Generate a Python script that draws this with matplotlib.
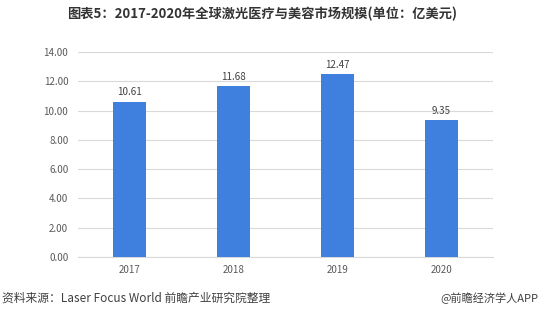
import matplotlib.pyplot as plt

plt.rcParams['font.family'] = ['Noto Sans CJK SC', 'DejaVu Sans']

years = ["2017", "2018", "2019", "2020"]
market = [10.61, 11.68, 12.47, 9.35]
yticks = [0, 2, 4, 6, 8, 10, 12, 14]

fig = plt.figure(figsize=(5.4, 3.2), dpi=100)
ax = fig.add_axes([78/540, 1-257/320, (493-78)/540, (257-52)/320])

bars = ax.bar(years, market, width=0.32, color="#3F7FDD", zorder=3)
for b, v in zip(bars, market):
    ax.text(b.get_x() + b.get_width()/2, v + 0.3, f"{v:.2f}", ha="center", va="bottom",
            fontsize=7, color="#404040")

ax.set_xlim(-0.5, 3.5)
ax.set_ylim(0, 14)
ax.set_yticks(yticks)
ax.set_yticklabels([f"{t:.2f}" for t in yticks])
ax.grid(axis="y", color="#D9D9D9", linewidth=0.8, zorder=0)
for s in ["top", "right", "left"]:
    ax.spines[s].set_visible(False)
ax.spines["bottom"].set_color("#D9D9D9")
ax.tick_params(axis="both", length=0, labelsize=7, labelcolor="#595959")
ax.tick_params(axis="y", pad=7)
ax.tick_params(axis="x", pad=6)

fig.text(0.485, 1-14/320, "图表5：2017-2020年全球激光医疗与美容市场规模(单位：亿美元)",
         ha="center", va="center", fontsize=9.5, fontweight="bold", color="#333333")
fig.text(2/540, 1-298/320, "资料来源：Laser Focus World 前瞻产业研究院整理",
         ha="left", va="center", fontsize=8.5, color="#404040")
fig.text(538/540, 1-298/320, "@前瞻经济学人APP",
         ha="right", va="center", fontsize=8, color="#404040")

fig.savefig("out.png", dpi=100)
